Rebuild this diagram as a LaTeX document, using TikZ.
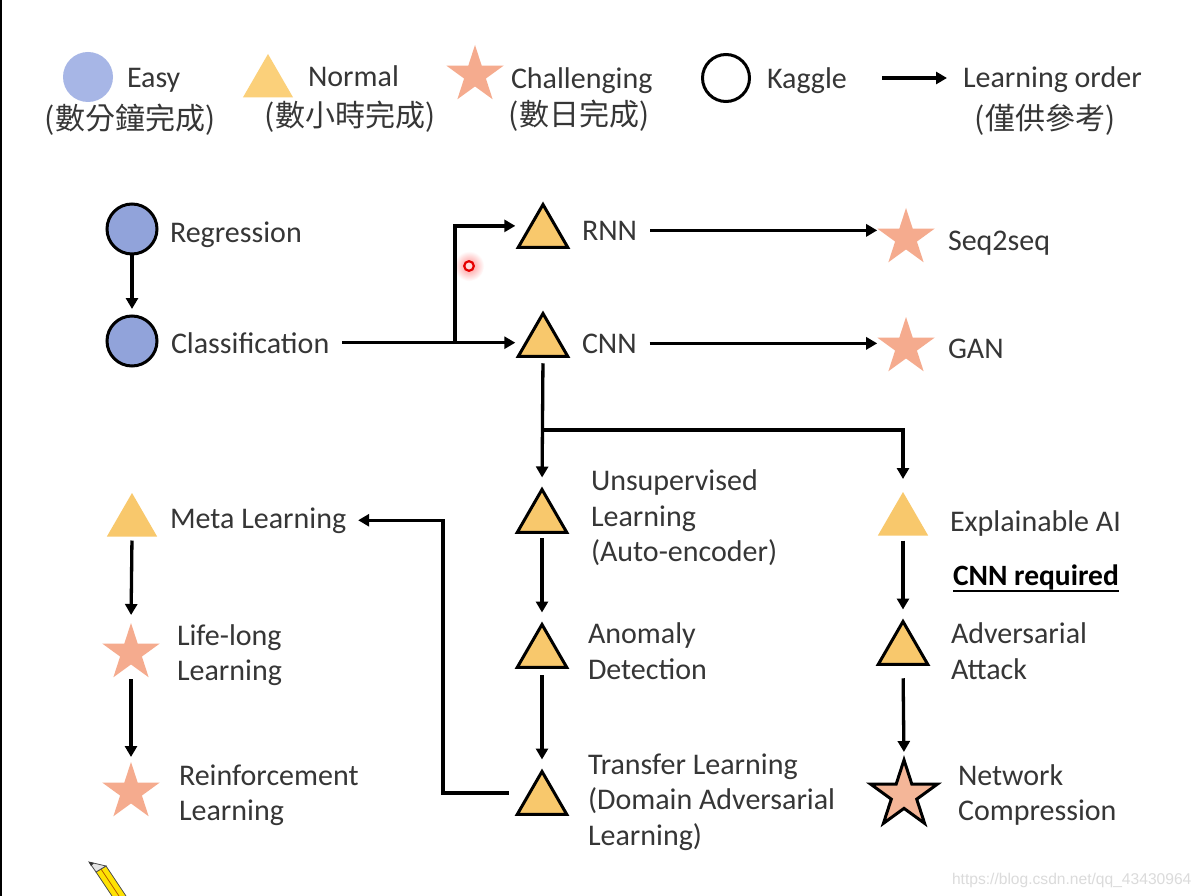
\documentclass[tikz,border=0pt]{standalone}
\usepackage{fontspec}
\setmainfont{Carlito}
\newfontfamily\cjkfont{Noto Sans CJK TC}
\newfontfamily\wmfont{Liberation Sans}
\usetikzlibrary{shapes.geometric,arrows.meta}
\definecolor{txtc}{HTML}{363636}
\definecolor{easyl}{HTML}{A7B6E6}
\definecolor{easyc}{HTML}{91A3DA}
\definecolor{norml}{HTML}{FBD07A}
\definecolor{normc}{HTML}{F8C86C}
\definecolor{chalc}{HTML}{F5AB8E}
\definecolor{ncfill}{HTML}{F4B698}
\begin{document}
\begin{tikzpicture}[x=1pt,y=-1pt,
  every node/.style={inner sep=0pt, outer sep=0pt},
  lbl/.style={font=\fontsize{30}{36}\selectfont, text=txtc, anchor=base west},
  mlbl/.style={font=\fontsize{30}{35.5}\selectfont, text=txtc, anchor=west, align=left},
  cjk/.style={font=\cjkfont\fontsize{30}{34}\selectfont, text=txtc},
  circ/.style={circle, minimum size=50pt, draw=black, line width=3pt, fill=easyc},
  tri/.style={regular polygon, regular polygon sides=3, minimum size=57pt, draw=black, line width=3pt, fill=normc, line join=miter},
  trin/.style={regular polygon, regular polygon sides=3, minimum size=58pt, fill=normc},
  starn/.style={star, star points=5, star point ratio=2.618, minimum size=60pt, fill=chalc},
  arr/.style={line width=3.3pt, -{Triangle[length=11pt,width=12pt]}},
  ln/.style={line width=3.3pt}
]
\fill[white] (0,0) rectangle (1204,896);
\useasboundingbox (0,0) rectangle (1204,896);
\draw[line width=2.5pt] (1,0) -- (1,896);

% ---------- legend ----------
\node[circle, minimum size=50pt, fill=easyl] (lgEasy) at (88,77) {};
\node[lbl] (lgEasyT) at (127,88) {Easy};
\node[cjk] (lgEasyC) at (130,120) {(數分鐘完成)};
\node[trin, fill=norml] (lgNorm) at (268,83) {};
\node[lbl] (lgNormT) at (308,87) {Normal};
\node[cjk] (lgNormC) at (350,117) {(數小時完成)};
\node[starn] (lgChal) at (475,75) {};
\node[lbl] (lgChalT) at (511,89) {Challenging};
\node[cjk] (lgChalC) at (579,116) {(數日完成)};
\node[circle, minimum size=47pt, draw=black, line width=3pt] (lgKag) at (726,78) {};
\node[lbl] (lgKagT) at (767,89) {Kaggle};
\coordinate (lgA1) at (882,78);
\coordinate (lgA2) at (947,78);
\draw[arr] (lgA1) -- (lgA2);
\node[lbl] (lgOrdT) at (963,88) {Learning order};
\node[cjk] (lgOrdC) at (1045,120) {(僅供參考)};

% ---------- laser pointer dot ----------
\shade[inner color=red!45, outer color=white] (469,266) circle (15);
\fill[red!15] (469,266) circle (4);
\draw[red!90!black, line width=2.2pt] (469,266) circle (4.8);

% ---------- main nodes ----------
\node[circ] (reg) at (132,229) {};
\node[lbl] (regT) at (170,242) {Regression};
\node[circ] (cls) at (132,341) {};
\node[lbl] (clsT) at (171,353) {Classification};

\node[tri] (rnn) at (543,233) {};
\node[lbl] (rnnT) at (582,240) {RNN};
\node[tri] (cnn) at (543,342) {};
\node[lbl] (cnnT) at (582,353) {CNN};

\node[starn] (seq) at (906,238) {};
\node[lbl] (seqT) at (948,250) {Seq2seq};
\node[starn] (gan) at (906,347) {};
\node[lbl] (ganT) at (948,358) {GAN};

\node[tri] (uns) at (542,518) {};
\node[mlbl] (unsT) at (591,518) {Unsupervised\\Learning\\(Auto-encoder)};
\node[tri] (ano) at (542,653) {};
\node[mlbl] (anoT) at (588,651) {Anomaly\\Detection};
\node[tri] (trf) at (542,800) {};
\node[mlbl] (trfT) at (588,802) {Transfer Learning\\(Domain Adversarial\\Learning)};

\node[trin] (meta) at (132,522) {};
\node[lbl] (metaT) at (170,528) {Meta Learning};
\node[starn] (life) at (131,653) {};
\node[mlbl] (lifeT) at (177,655) {Life-long\\Learning};
\node[starn] (rein) at (131,792) {};
\node[mlbl] (reinT) at (179,795) {Reinforcement\\Learning};

\node[trin] (xai) at (903,521) {};
\node[lbl] (xaiT) at (950,531) {Explainable AI};
\node[lbl, font=\bfseries\fontsize{29.5}{34}\selectfont, text=black] (reqT) at (953,585) {CNN required};
\draw[line width=1.8pt, black] ([yshift=-6pt]reqT.base west) -- ([yshift=-6pt]reqT.base east);
\node[tri] (adv) at (903,650) {};
\node[mlbl] (advT) at (951,651) {Adversarial\\Attack};
\node[star, star points=5, star point ratio=2.618, minimum size=70pt, fill=ncfill, draw=black, line width=3pt] (nc) at (904,795) {};
\node[mlbl] (ncT) at (958,795) {Network\\Compression};

% ---------- connectors ----------
\coordinate (brx) at (455,0);
\coordinate (yj) at (0,430);
\draw[arr, shorten >=7pt] (reg) -- (cls);
\draw[arr, shorten <=13pt, shorten >=3pt] (clsT.east) -- (clsT.east -| cnn.corner 2);
\draw[arr, shorten >=3pt] (clsT.east -| brx) |- (rnn.side 1 -| rnn.corner 2);
\draw[arr, shorten <=13pt, shorten >=13pt] (rnnT.east) -- (rnnT.east -| seq.west);
\draw[arr, shorten <=13pt, shorten >=13pt] (cnnT.east) -- (cnnT.east -| gan.west);
\draw[arr, shorten <=7pt, shorten >=12pt] (cnn.south) -- (uns.north);
\draw[arr, shorten >=13pt] (cnn.south |- yj) -| (xai.north);
\draw[arr, shorten <=6pt, shorten >=12pt] (uns.south) -- (ano.north);
\draw[arr, shorten <=8pt, shorten >=12pt] (ano.south) -- (trf.north);
\draw[arr, shorten <=21pt, shorten >=12pt] (trf.side 1) -| (metaT.east -| 443,0) -- (metaT.east);
\draw[arr, shorten <=4pt, shorten >=8pt] (meta.south) -- (life.north);
\draw[arr, shorten <=15pt, shorten >=5pt] (life.south) -- (rein.north);
\draw[arr, shorten <=5pt, shorten >=12pt] (xai.south) -- (adv.north);
\draw[arr, shorten <=14pt, shorten >=8pt] (adv.south) -- (nc.north);

% ---------- pencil ----------
\fill[yellow!85!orange] (96,872) -- (106,866) -- (126,896) -- (112,896) -- cycle;
\draw[black!70, line width=0.8pt] (96,872) -- (106,866) -- (126,896);
\draw[black!70, line width=0.8pt] (96,872) -- (112,896);
\draw[orange!70!black, line width=0.8pt] (101,869) -- (119,896);
\fill[black!10] (89,862) -- (106,866) -- (96,872) -- cycle;
\draw[black!70, line width=0.8pt] (89,862) -- (106,866) -- (96,872) -- cycle;
\fill[black!80] (89,862) -- (94,863) -- (91,866) -- cycle;

% ---------- watermark ----------
\node[font=\wmfont\fontsize{15.6}{18}\selectfont, text=black!14, anchor=base west] (wm) at (952,884) {https://blog.csdn.net/qq\_43430964};
\end{tikzpicture}
\end{document}
